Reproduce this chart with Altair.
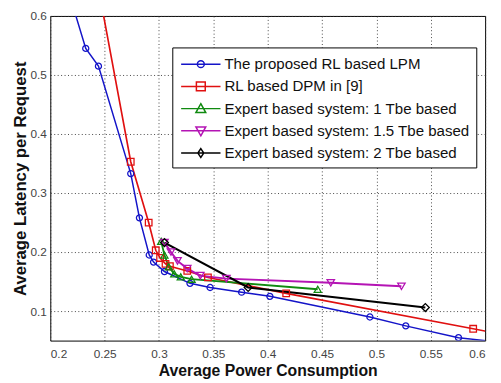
import altair as alt
import pandas as pd

series_names = [
    "The proposed RL based LPM",
    "RL based DPM in [9]",
    "Expert based system: 1 Tbe based",
    "Expert based system: 1.5 Tbe based",
    "Expert based system: 2 Tbe based",
]

lpm_x = [0.215, 0.2326, 0.2443, 0.274, 0.282, 0.291, 0.295, 0.305, 0.3285, 0.347, 0.376, 0.402, 0.494, 0.527, 0.5755, 0.62]
lpm_y = [0.652, 0.545, 0.515, 0.333, 0.258, 0.195, 0.183, 0.167, 0.147, 0.140, 0.132, 0.125, 0.090, 0.075, 0.055, 0.046]

dpm_x = [0.244, 0.274, 0.2905, 0.297, 0.301, 0.306, 0.310, 0.326, 0.345, 0.417, 0.589, 0.63]
dpm_y = [0.650, 0.353, 0.250, 0.203, 0.190, 0.180, 0.176, 0.168, 0.157, 0.130, 0.070, 0.0555]

tbe1_x = [0.302, 0.305, 0.309, 0.314, 0.320, 0.330, 0.446]
tbe1_y = [0.218, 0.195, 0.175, 0.163, 0.158, 0.154, 0.137]

tbe15_x = [0.305, 0.311, 0.317, 0.326, 0.338, 0.362, 0.458, 0.523]
tbe15_y = [0.216, 0.200, 0.185, 0.172, 0.160, 0.155, 0.148, 0.142]

tbe2_x = [0.305, 0.382, 0.545]
tbe2_y = [0.216, 0.140, 0.106]

x_ticks = [0.2, 0.25, 0.3, 0.35, 0.4, 0.45, 0.5, 0.55, 0.6]
y_ticks = [0.1, 0.2, 0.3, 0.4, 0.5, 0.6]

colors = ["#1414c8", "#e01010", "#108a10", "#b414b4", "#000000"]
shapes = ["circle", "square", "triangle-up", "triangle-down", "diamond"]
widths = [1.5, 2.2, 1.5, 1.5, 1.5]
sizes = [38, 64, 50, 50, 40]
legend_paths = [
    "M-1,0H3M0.65,0A0.35,0.35 0 1,0 1.35,0A0.35,0.35 0 1,0 0.65,0",
    "M-1,0H3M0.55,-0.45H1.45V0.45H0.55Z",
    "M-1,0H3M1,-0.5L1.5,0.4H0.5Z",
    "M-1,0H3M1,0.5L1.5,-0.4H0.5Z",
    "M-1,0H3M1,-0.45L1.3,0L1,0.45L0.7,0Z",
]

rows = []
for name, xs, ys in zip(series_names, [lpm_x, dpm_x, tbe1_x, tbe15_x, tbe2_x],
                        [lpm_y, dpm_y, tbe1_y, tbe15_y, tbe2_y]):
    for i, (xv, yv) in enumerate(zip(xs, ys)):
        rows.append({"series": name, "power": xv, "latency": yv, "order": i})
df = pd.DataFrame(rows)

x_enc = alt.X("power:Q", scale=alt.Scale(domain=[0.2, 0.6], nice=False, zero=False),
              axis=alt.Axis(values=x_ticks, format="~g", title="Average Power Consumption",
                            labelPadding=8, titleY=35, titleBaseline="alphabetic",
                            titleFontSize=16))
y_enc = alt.Y("latency:Q", scale=alt.Scale(domain=[0.05, 0.6], nice=False, zero=False),
              axis=alt.Axis(values=y_ticks, format=".1f", title="Average Latency per Request",
                            labelPadding=4, titlePadding=1))

base = alt.Chart(df)

lines = base.mark_line(clip=True).encode(
    x=x_enc, y=y_enc,
    color=alt.Color("series:N", scale=alt.Scale(domain=series_names, range=colors), legend=None),
    strokeWidth=alt.StrokeWidth("series:N", scale=alt.Scale(domain=series_names, range=widths), legend=None),
    order="order:Q",
)

points = base.mark_point(clip=True, filled=False, strokeWidth=1.3, opacity=1).encode(
    x=x_enc, y=y_enc,
    color=alt.Color("series:N", scale=alt.Scale(domain=series_names, range=colors), legend=None),
    shape=alt.Shape("series:N", scale=alt.Scale(domain=series_names, range=shapes), legend=None),
    size=alt.Size("series:N", scale=alt.Scale(domain=series_names, range=sizes), legend=None),
)

leg = alt.Legend(title=None, orient="none", legendX=124, legendY=32, symbolSize=400,
                 symbolStrokeWidth=1.5, labelFontSize=15.3, labelFont="Liberation Sans",
                 labelColor="#111111", labelOffset=23, padding=6, strokeColor="black",
                 fillColor="white", rowPadding=2.6, symbolOffset=2, labelLimit=400,
                 cornerRadius=0, symbolFillColor="white")

legend_layer = base.transform_filter("datum.power > 10").mark_point(filled=False, opacity=1).encode(
    x=x_enc, y=y_enc,
    color=alt.Color("series:N", scale=alt.Scale(domain=series_names, range=colors), legend=leg),
    shape=alt.Shape("series:N", scale=alt.Scale(domain=series_names, range=legend_paths), legend=leg),
)

chart = alt.layer(lines, points, legend_layer).resolve_scale(
    color="independent", shape="independent"
).properties(
    width=442, height=330,
    autosize=alt.AutoSizeParams(type="none"),
    padding={"left": 43, "top": 5, "right": 8, "bottom": 39},
    background="white",
).configure_view(
    stroke="black", strokeWidth=1
).configure_axis(
    domain=False, ticks=False,
    grid=True, gridColor="#333333", gridDash=[1, 2.5], gridWidth=1, gridOpacity=0.9,
    labelFont="Liberation Sans", labelFontSize=12, labelColor="#444444",
    titleFont="Liberation Sans", titleFontSize=17, titleFontWeight="bold", titleColor="#111111",
)

chart.save("out.html", embed_options={"renderer": "svg", "actions": False})
